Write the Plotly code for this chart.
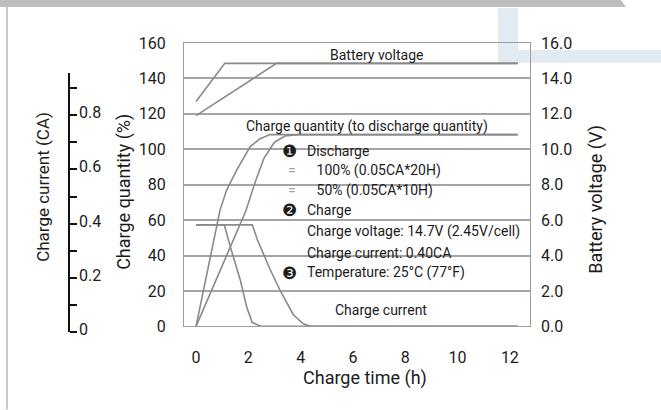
import plotly.graph_objects as go

# ---------------- data ----------------
X_TICKS = [0, 2, 4, 6, 8, 10, 12]
Q_TICKS = [0, 20, 40, 60, 80, 100, 120, 140, 160]
V_TICKS = [0, 2, 4, 6, 8, 10, 12, 14, 16]
CA_TICKS = [0, 0.1, 0.2, 0.3, 0.4, 0.5, 0.6, 0.7, 0.8, 0.9]
CA_TICK_LABELS = ["0", "0.2", "0.4", "0.6", "0.8"]
CA_LABEL_VALUES = [0, 0.2, 0.4, 0.6, 0.8]

# Battery voltage (V)
T_VOLT_50 = [0, 1.1, 12.3]
VOLT_50 = [12.7, 14.85, 14.85]
T_VOLT_100 = [0, 3.08, 12.3]
VOLT_100 = [11.9, 14.85, 14.85]

# Charge quantity (%)
T_QTY_50 = [0, 0.5, 0.92, 1.17, 1.56, 2.07, 2.45, 2.83, 12.3]
QTY_50 = [0, 36, 65.8, 77, 88.4, 101.5, 106, 108.3, 108.3]
T_QTY_100 = [0, 1.0, 1.9, 2.25, 2.6, 3.0, 3.4, 3.9, 12.3]
QTY_100 = [0, 34, 65, 81, 95, 104, 107.5, 108.3, 108.3]

# Charge current (CA)
T_CUR_50 = [0, 1.08, 1.35, 1.7, 1.94, 2.15, 2.5, 12.3]
CUR_50 = [0.4, 0.4, 0.30, 0.18, 0.075, 0.015, 0, 0]
T_CUR_100 = [0, 2.15, 2.35, 2.83, 3.2, 3.72, 4.1, 4.4, 12.3]
CUR_100 = [0.4, 0.4, 0.34, 0.225, 0.145, 0.046, 0.01, 0, 0]

# ---------------- layout helpers ----------------
W, H = 661, 410
PL, PR, PT, PB = 40, 530, 43, 332.3  # plot-area pixel box


def px(x):
    return (x - PL) / (PR - PL)


def py(y):
    return (PB - y) / (PB - PT)


FONT = "Roboto"
TXT = "#1c1c1c"
CURVE = "#8a8a8a"
GRID = "#a4a4a4"
FRAME = "#9c9c9c"

fig = go.Figure()

def line(x, y, axis):
    fig.add_trace(go.Scatter(x=x, y=y, mode="lines", yaxis=axis,
                             line=dict(color=CURVE, width=1.6),
                             hoverinfo="skip", showlegend=False))

line(T_VOLT_50, VOLT_50, "y2")
line(T_VOLT_100, VOLT_100, "y2")
line(T_QTY_50, QTY_50, "y")
line(T_QTY_100, QTY_100, "y")
line(T_CUR_50, CUR_50, "y3")
line(T_CUR_100, CUR_100, "y3")

# dummy trace to create the free charge-current axis
fig.add_trace(go.Scatter(x=[0], y=[0], yaxis="y4", mode="markers",
                         marker=dict(opacity=0), hoverinfo="skip", showlegend=False))

y_dom0 = py(326.7)
tickfont = dict(family=FONT, size=16, color=TXT)

fig.update_layout(
    width=W, height=H, autosize=False,
    margin=dict(l=PL, r=W - PR, t=PT, b=H - PB, autoexpand=False),
    paper_bgcolor="white", plot_bgcolor="rgba(0,0,0,0)",
    font=dict(family=FONT, color=TXT),
    showlegend=False,
    xaxis=dict(domain=[px(184), 1], anchor="y", range=[-0.46, 12.77],
               tickvals=X_TICKS, ticks="", showgrid=False, zeroline=False,
               showline=True, mirror=True, linecolor=FRAME, linewidth=1.2,
               tickfont=tickfont, ticklabelstandoff=16, automargin=False),
    yaxis=dict(domain=[y_dom0, 1], anchor="x", range=[0, 160],
               tickvals=Q_TICKS, ticks="", showgrid=False, zeroline=False,
               showline=True, mirror=True, linecolor=FRAME, linewidth=1.2,
               minor=dict(tickvals=Q_TICKS[1:-1], showgrid=True,
                          gridcolor=GRID, gridwidth=2),
               tickfont=tickfont, ticklabelstandoff=14, automargin=False),
    yaxis2=dict(overlaying="y", anchor="x", side="right", range=[0, 16],
                tickvals=V_TICKS, tickformat=".1f", ticks="", showgrid=False,
                zeroline=False, showline=False, tickfont=tickfont,
                ticklabelstandoff=10, automargin=False),
    yaxis3=dict(overlaying="y", anchor="x", range=[0, 1.116], visible=False),
    yaxis4=dict(anchor="free", position=px(69.3), side="right",
                domain=[0, py(73.3)], range=[0, 0.955],
                tickvals=CA_TICKS, ticks="outside", ticklen=7, tickwidth=1.5,
                tickcolor="#111", showline=True, linecolor="#111", linewidth=1.5,
                showticklabels=False, showgrid=False, zeroline=False,
                automargin=False),
)

shapes = []
# white box behind the condition text (interrupts grid lines)
shapes.append(dict(type="rect", xref="paper", yref="paper",
                   x0=px(282), x1=px(523), y0=py(280), y1=py(140),
                   fillcolor="white", line=dict(width=0), layer="between"))
# decorative page elements
pts = [(0, 0), (621, 0), (626, 7), (0, 7)]
path = "M " + " L ".join(f"{px(a):.5f},{py(b):.5f}" for a, b in pts) + " Z"
shapes.append(dict(type="path", xref="paper", yref="paper", path=path,
                   fillcolor="#bebebe", line=dict(width=0), layer="below"))
shapes.append(dict(type="line", xref="paper", yref="paper",
                   x0=px(7), x1=px(7), y0=py(7), y1=py(410),
                   line=dict(color="#c9c9c9", width=2), layer="below"))
shapes.append(dict(type="rect", xref="paper", yref="paper",
                   x0=px(498), x1=px(518), y0=py(50), y1=py(8),
                   fillcolor="#e2ebf2", line=dict(width=0), layer="below"))
shapes.append(dict(type="rect", xref="paper", yref="paper",
                   x0=px(498), x1=px(661), y0=py(63), y1=py(50),
                   fillcolor="#e2ebf2", line=dict(width=0), layer="below"))
fig.update_layout(shapes=shapes)

ann = []

def text(t, x, y, size=14, xanchor="left", color=TXT, family=FONT, angle=0):
    ann.append(dict(text=t, x=px(x), y=py(y), xref="paper", yref="paper",
                    xanchor=xanchor, yanchor="middle", showarrow=False,
                    textangle=angle, font=dict(family=family, size=size, color=color)))

# axis titles
text("Charge time (h)", 365, 378, size=18, xanchor="center")
text("Charge quantity (%)", 124, 192, size=18, xanchor="center", angle=-90)
text("Battery voltage (V)", 596, 200, size=18, xanchor="center", angle=-90)
text("Charge current (CA)", 43, 187, size=17, xanchor="center", angle=-90)

# curve labels
text("Battery voltage", 376.7, 55, xanchor="center")
text("Charge quantity (to discharge quantity)", 366.7, 127, xanchor="center")
text("Charge current", 380.5, 310, xanchor="center")

# conditions
SYM = "DejaVu Sans"
EQ = "<span style='color:#a0a0a0'>=</span>" + "\u00a0" * 6
text("❶", 280, 151, size=17, family=SYM)
text("Discharge", 305, 151.5)
text(EQ + "100% (0.05CA*20H)", 286, 171)
text(EQ + "50% (0.05CA*10H)", 286, 190.5)
text("❷", 280, 210, size=17, family=SYM)
text("Charge", 305, 210)
text("Charge voltage: 14.7V (2.45V/cell)", 305, 231.5)
text("Charge current: 0.40CA", 305, 253)
text("❸", 280, 273, size=17, family=SYM)
text("Temperature: 25°C (77°F)", 305, 272.5)

# charge-current axis tick labels
for v, lab in zip(CA_LABEL_VALUES, CA_TICK_LABELS):
    ann.append(dict(text=lab, x=px(77), y=v, xref="paper", yref="y4",
                    xanchor="left", yanchor="bottom", yshift=-9, showarrow=False,
                    font=dict(family=FONT, size=16, color=TXT)))

fig.update_layout(annotations=ann)
fig.write_html("out.html", config={"displayModeBar": False},
               post_script="document.body.style.margin='0';")
